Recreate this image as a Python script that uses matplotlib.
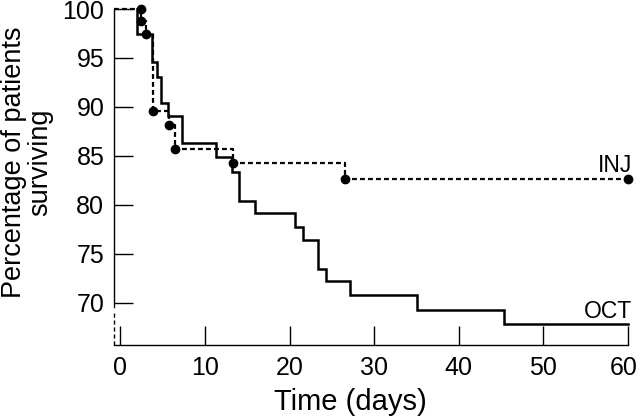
import matplotlib
matplotlib.use("Agg")
import matplotlib.pyplot as plt
import matplotlib.transforms as mtransforms

plt.rcParams['font.family'] = ['Liberation Sans', 'DejaVu Sans']

# ---- data ----
start_day = -0.76
oct_times = [1.9, 1.9, 3.7, 4.3, 4.8, 5.6, 7.3, 11.3, 13.2, 14.0, 15.9, 20.6,
             21.6, 23.4, 24.3, 27.1, 35.0, 45.3, 60.0]
oct_surv = [100, 97.4, 94.6, 93.1, 90.4, 89.1, 86.3, 84.9, 83.4, 80.4, 79.2,
            77.7, 76.4, 73.5, 72.2, 70.8, 69.3, 67.8, 67.8]

inj_times = [start_day, 2.4, 3.0, 3.8, 5.7, 6.5, 13.3, 26.5, 60.0]
inj_surv = [100, 98.8, 97.4, 89.6, 88.2, 85.7, 84.3, 82.6, 82.6]

inj_dot_times = [2.4, 2.4, 3.0, 3.8, 5.7, 6.5, 13.3, 26.5, 60.0]
inj_dot_surv = [100, 98.8, 97.4, 89.6, 88.2, 85.7, 84.3, 82.6, 82.6]

x_ticks = [0, 10, 20, 30, 40, 50, 60]
y_ticks = [70, 75, 80, 85, 90, 95, 100]

fig = plt.figure(figsize=(6.4, 4.17), dpi=100)
ax = fig.add_axes([114/640, 1-345/417, (628-114)/640, (345-9)/417])

ax.set_xlim(start_day, 60.0)
ax.set_ylim(65.7, 100.0)

ax.step(oct_times, oct_surv, where='post', color='black', lw=1.8,
        solid_joinstyle='miter', clip_on=False, zorder=3)
ax.step(inj_times, inj_surv, where='post', color='black', lw=1.6,
        dashes=(2.2, 1.4), clip_on=False, zorder=4)
ax.plot(inj_dot_times, inj_dot_surv, 'o', color='black', ms=6,
        clip_on=False, zorder=5)

ax.text(60.5, 83.4, 'INJ', ha='right', va='baseline', fontsize=16.5)
ax.text(60.5, 68.5, 'OCT', ha='right', va='baseline', fontsize=16.5)

for s in ['top', 'right']:
    ax.spines[s].set_visible(False)
ax.spines['left'].set_bounds(69.6, 100)
ax.spines['left'].set_linewidth(1.0)
ax.spines['bottom'].set_linewidth(1.0)
ax.plot([start_day, start_day], [65.7, 69.0], color='black', lw=1.0,
        dashes=(3, 2), clip_on=False)

ax.set_xticks(x_ticks)
ax.set_yticks(y_ticks)
ax.tick_params(axis='both', direction='in', length=13.7, width=1.0,
               labelsize=18)
ax.tick_params(axis='y', pad=7)
ax.tick_params(axis='x', pad=8)

# nudge the last x tick label so it stays inside the figure
last = ax.get_xticklabels()[-1]
last.set_transform(last.get_transform() +
                   mtransforms.ScaledTranslation(-4/100, 0, fig.dpi_scale_trans))

fig.text(27/640, 1-162/417, 'Percentage of patients\nsurviving', rotation=90,
         ha='center', va='center', multialignment='center', fontsize=19.5,
         linespacing=1.0)
fig.text(350/640, 1-402/417, 'Time (days)', ha='center', va='center',
         fontsize=21)

fig.savefig('out.png', dpi=100)
